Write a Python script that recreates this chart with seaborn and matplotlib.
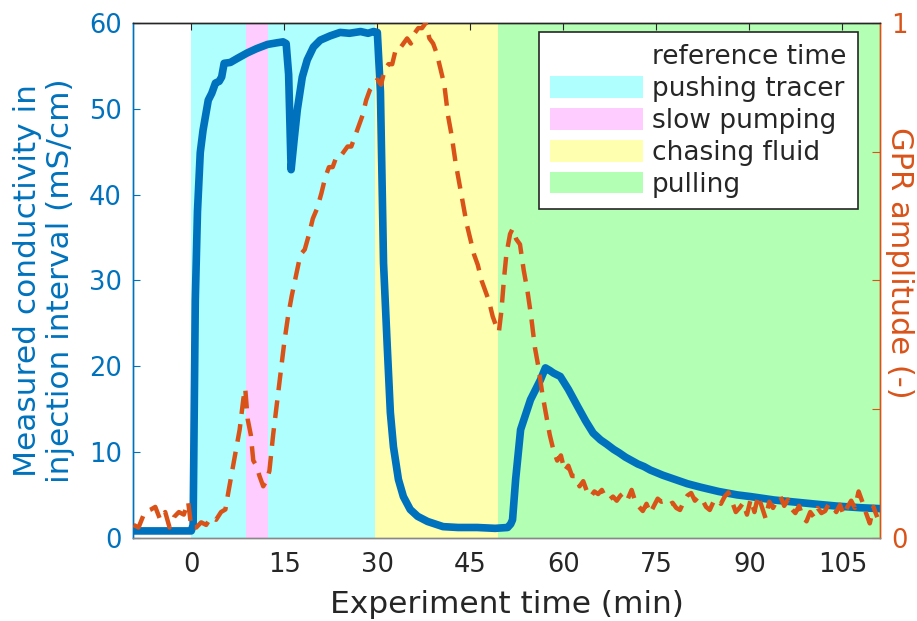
import numpy as np
import pandas as pd
import matplotlib
matplotlib.use("Agg")
import matplotlib.pyplot as plt
from matplotlib.patches import Patch
from matplotlib.lines import Line2D
import seaborn as sns

# ---------------- data ----------------
cond_time = [-9.4, -5.0, -1.0, 0.0, 0.3, 0.65, 1.0, 1.45, 1.9, 2.74, 3.3, 3.9, 4.5, 4.9, 5.3, 6.3, 7.5,
             9.0, 10.5, 12.3, 13.9, 14.8, 15.3, 15.7, 16.1, 16.6, 17.1, 17.9, 18.7, 19.7, 20.8,
             22.4, 24.0, 25.5, 27.3, 28.5, 29.4, 30.0, 30.5, 31.0, 31.6, 32.1, 32.6, 33.4,
             34.2, 35.3, 36.5, 38.1, 40.6, 43.0, 46.1, 49.0, 51.0, 51.5, 51.8, 52.3, 53.1,
             54.7, 56.3, 57.1, 57.8, 58.4, 59.5, 60.8, 62.3, 63.6, 64.8, 66.0, 67.0, 68.1,
             69.0, 70.0, 71.0, 72.0, 73.0, 74.0, 75.0, 76.0, 78.0, 80.0, 82.1, 85.0, 88.0,
             90.2, 94.0, 98.2, 101.0, 104.0, 108.0, 111.0]
cond_value = [0.8, 0.8, 0.8, 0.8, 1.5, 27.7, 38.0, 44.9, 47.5, 51.0, 51.8, 53.0, 53.2, 53.7, 55.3, 55.4, 55.9,
              56.5, 57.0, 57.5, 57.7, 57.8, 57.6, 54.0, 42.9, 46.5, 49.9, 53.7, 55.7, 57.2, 58.0,
              58.5, 58.9, 58.8, 59.0, 58.8, 59.0, 58.9, 52.0, 32.0, 22.3, 14.6, 10.6, 6.8,
              4.8, 3.3, 2.5, 1.9, 1.3, 1.2, 1.2, 1.1, 1.2, 1.6, 2.1, 6.8, 12.6,
              16.1, 18.4, 19.8, 19.5, 19.2, 18.8, 17.3, 15.3, 13.6, 12.2, 11.4, 10.9, 10.3,
              9.9, 9.4, 9.0, 8.6, 8.3, 7.9, 7.6, 7.3, 6.8, 6.3, 5.9, 5.4, 5.0,
              4.8, 4.4, 4.1, 3.9, 3.7, 3.5, 3.4]

gpr_time = [-9.3, -8.5, -7.5, -6.5, -5.8, -5.0, -4.2, -3.5, -2.8, -2.0, -1.2, -0.5, 0.0, 0.8, 1.6,
            2.4, 3.2, 4.0, 4.8, 5.5, 6.0, 6.6, 7.2, 7.8, 8.4, 8.7, 9.1, 9.6, 10.0, 10.5, 11.0,
            11.6, 12.1, 12.6, 13.2, 13.8, 14.4, 15.0, 15.6, 16.2, 16.9, 17.6, 18.3, 19.0, 19.6,
            20.3, 21.0, 21.6, 22.2, 22.8, 23.4, 24.0, 24.6, 25.2, 25.8, 26.4, 27.0, 27.6, 28.2,
            28.8, 29.4, 30.0, 30.6, 31.2, 31.8, 32.4, 33.0, 33.6, 34.2, 34.8, 35.4, 36.0, 36.6,
            37.2, 37.8, 38.4, 39.0, 39.6, 40.2, 40.8, 41.4, 42.0, 42.6, 43.2, 43.8, 44.4, 45.0,
            45.6, 46.2, 46.8, 47.4, 48.0, 48.6, 49.2, 49.6, 50.0, 50.4, 50.8, 51.4, 51.8, 52.4,
            53.0, 53.6, 54.2, 54.8, 55.4, 56.0, 56.6, 57.2, 57.8, 58.4, 59.0, 59.6, 60.2, 60.8,
            61.4, 62.0, 62.6, 63.2, 63.8, 64.4, 65.0, 65.6, 66.2, 66.8, 67.4, 68.0, 68.6, 69.2,
            69.8, 70.4, 71.0, 71.6, 72.2, 72.8, 73.4, 74.0, 74.6, 75.2, 75.8, 76.4, 77.0, 77.6,
            78.2, 78.8, 79.4, 80.0, 80.6, 81.2, 81.8, 82.4, 83.0, 83.6, 84.2, 84.8, 85.4, 86.0,
            86.6, 87.2, 87.8, 88.4, 89.0, 89.6, 90.2, 90.8, 91.4, 92.0, 92.6, 93.2, 93.8, 94.4,
            95.0, 95.6, 96.2, 96.8, 97.4, 98.0, 98.6, 99.2, 99.8, 100.4, 101.0, 101.6, 102.2,
            102.8, 103.4, 104.0, 104.6, 105.2, 105.8, 106.4, 107.0, 107.6, 108.2, 108.8, 109.4,
            110.0, 110.6]
gpr_value = [0.025, 0.02, 0.05, 0.055, 0.06, 0.035, 0.05, 0.02, 0.04, 0.05, 0.045, 0.07, 0.02, 0.02, 0.03,
             0.025, 0.04, 0.035, 0.05, 0.055, 0.09, 0.13, 0.17, 0.21, 0.27, 0.29, 0.23, 0.20, 0.15, 0.14, 0.12,
             0.10, 0.11, 0.13, 0.20, 0.26, 0.32, 0.38, 0.43, 0.47, 0.51, 0.55, 0.56, 0.59, 0.62,
             0.64, 0.67, 0.70, 0.72, 0.72, 0.74, 0.74, 0.75, 0.76, 0.76, 0.78, 0.80, 0.82, 0.85,
             0.87, 0.88, 0.89, 0.88, 0.91, 0.92, 0.92, 0.95, 0.95, 0.96, 0.97, 0.96, 0.98, 0.99,
             0.99, 1.00, 0.97, 0.96, 0.94, 0.91, 0.88, 0.82, 0.78, 0.73, 0.69, 0.65, 0.61, 0.58,
             0.55, 0.53, 0.50, 0.48, 0.46, 0.43, 0.41, 0.40, 0.44, 0.50, 0.55, 0.59, 0.60, 0.58,
             0.57, 0.52, 0.48, 0.43, 0.37, 0.33, 0.28, 0.24, 0.20, 0.17, 0.15, 0.16, 0.13, 0.14,
             0.12, 0.12, 0.10, 0.11, 0.09, 0.08, 0.09, 0.085, 0.093, 0.078, 0.074, 0.080, 0.072, 0.082,
             0.088, 0.076, 0.093, 0.070, 0.060, 0.052, 0.066, 0.048, 0.062, 0.076, 0.070, 0.072, 0.064, 0.068,
             0.058, 0.054, 0.070, 0.082, 0.087, 0.072, 0.080, 0.074, 0.060, 0.054, 0.070, 0.075, 0.066, 0.080,
             0.088, 0.070, 0.050, 0.058, 0.068, 0.045, 0.075, 0.050, 0.082, 0.060, 0.038, 0.070, 0.058, 0.072,
             0.080, 0.062, 0.074, 0.056, 0.048, 0.062, 0.040, 0.032, 0.050, 0.040, 0.058, 0.048, 0.052,
             0.066, 0.060, 0.050, 0.064, 0.044, 0.060, 0.072, 0.058, 0.090, 0.070, 0.048, 0.028,
             0.060, 0.040]

phase_labels = ["pushing tracer", "slow pumping", "pushing tracer", "chasing fluid", "pulling"]
phase_start = [0.0, 8.8, 12.3, 29.7, 49.5]
phase_end = [8.8, 12.3, 29.7, 49.5, 111.2]
legend_labels = ["pushing tracer", "slow pumping", "chasing fluid", "pulling"]

x_ticks = [0, 15, 30, 45, 60, 75, 90, 105]
left_ticks = [0, 10, 20, 30, 40, 50, 60]
right_ticks = [0, 0.25, 0.5, 0.75, 1]
right_ticklabels = ["0", "", "", "", "1"]

# ---------------- style ----------------
sns.set_style("white")
plt.rcParams["font.family"] = ["DejaVu Sans"]

BLUE = "#0072BD"
ORANGE = "#D95319"
TXT = "#262626"
phase_colors = {"pushing tracer": "#B0FFFF", "slow pumping": "#FFCCFF",
                "chasing fluid": "#FFFFB0", "pulling": "#B3FFB3"}

fig = plt.figure(figsize=(9.17, 6.21), dpi=100)
ax = fig.add_axes([0.145, 0.134, 0.815, 0.829])

for lab, s, e in zip(phase_labels, phase_start, phase_end):
    ax.axvspan(s, e, color=phase_colors[lab], lw=0, zorder=0)

df_c = pd.DataFrame({"time": cond_time, "cond": cond_value})
sns.lineplot(data=df_c, x="time", y="cond", ax=ax, color=BLUE, lw=5.5,
             estimator=None, sort=False, zorder=3)

ax2 = ax.twinx()
df_g = pd.DataFrame({"time": gpr_time, "gpr": gpr_value})
sns.lineplot(data=df_g, x="time", y="gpr", ax=ax2, color=ORANGE, lw=3.2,
             estimator=None, sort=False, zorder=4)
ax2.lines[0].set_dashes((4.0, 2.3))

ax.set_xlim(-9.4, 111.1)
ax.set_ylim(0, 60)
ax2.set_ylim(0, 1)

ax.set_xticks(x_ticks)
ax.set_yticks(left_ticks)
ax2.set_yticks(right_ticks)
ax2.set_yticklabels(right_ticklabels)

FS = 18.5
ax.tick_params(axis="x", direction="in", length=5, labelsize=FS, colors=TXT, pad=10)
ax.tick_params(axis="y", direction="in", length=5, labelsize=FS, colors=BLUE, pad=8)
ax2.tick_params(axis="y", direction="in", length=6, labelsize=FS, colors=ORANGE, pad=8)
ax.tick_params(axis="x", top=True)

LFS = 22.5
ax.set_xlabel("Experiment time (min)", fontsize=LFS, color=TXT, va="center")
ax.xaxis.set_label_coords(0.5, -0.13)
ax.set_ylabel("Measured conductivity in\ninjection interval (mS/cm)", fontsize=LFS,
              color=BLUE, va="center", ha="center", linespacing=1.15)
ax.yaxis.set_label_coords(-0.119, 0.5)
ax2.set_ylabel("GPR amplitude (-)", fontsize=22, color=ORANGE, rotation=270,
               va="center", ha="center", rotation_mode="default")
ax2.yaxis.set_label_coords(1.026, 0.535)

for a in (ax, ax2):
    a.spines["top"].set_color(TXT)
    a.spines["bottom"].set_color("#888888")
    a.spines["left"].set_color(BLUE)
    a.spines["right"].set_color(ORANGE)
    for s in a.spines.values():
        s.set_linewidth(1.0)
ax.grid(False)
ax2.grid(False)

handles = [Line2D([], [], color="none")] + [Patch(facecolor=phase_colors[l], edgecolor="none")
                                            for l in legend_labels]
labels = ["reference time"] + legend_labels
leg = ax2.legend(handles, labels, loc="upper right", bbox_to_anchor=(0.9705, 0.982),
                 borderaxespad=0, fontsize=19, frameon=True, fancybox=False,
                 framealpha=1, edgecolor="#262626", handlelength=3.5, handleheight=0.9,
                 handletextpad=0.35, labelspacing=0.22, borderpad=0.45)
leg.get_frame().set_linewidth(1.2)
leg.set_zorder(10)

fig.savefig("out.png", dpi=100)
